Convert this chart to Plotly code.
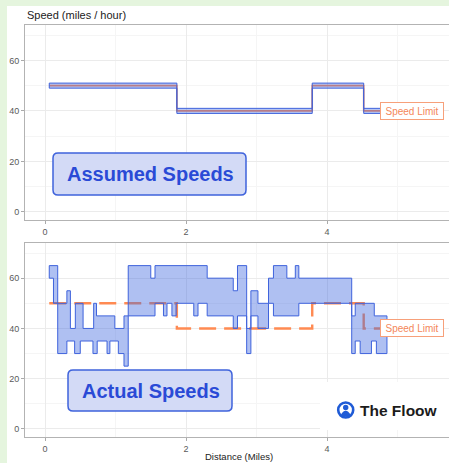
import plotly.graph_objects as go

W, H = 449, 463

# ---------------- data ----------------
# assumed speed = speed limit (mph), step function over distance (miles)
limit_breaks = [0.06, 1.87, 3.79, 4.52, 4.85]
limit_vals = [50, 40, 50, 40]
assumed_half_band = 1  # mph either side of the assumed speed

# actual speeds: upper envelope (max speed) step function
upper_breaks = [0.06, 0.18, 0.31, 0.36, 0.43, 0.54, 0.69, 0.73, 0.99, 1.12, 1.18,
                1.50, 1.56, 2.30, 2.67, 2.73, 2.86, 2.92, 3.02, 3.17, 3.24, 3.43,
                3.55, 3.60, 4.35, 4.40, 4.67, 4.85]
upper_vals = [65, 50, 55, 40, 50, 40, 50, 45, 40, 45, 65, 60, 65, 60, 55, 65, 40,
              55, 50, 60, 65, 60, 65, 60, 45, 50, 45]

# actual speeds: lower envelope (min speed) step function
lower_breaks = [0.06, 0.12, 0.18, 0.31, 0.42, 0.50, 0.68, 0.74, 0.88, 0.92, 1.04,
                1.12, 1.18, 1.56, 1.68, 1.73, 1.80, 1.86, 2.11, 2.17, 2.30, 2.67,
                2.73, 2.86, 2.92, 3.02, 3.17, 3.24, 3.60, 4.35, 4.40, 4.47, 4.63,
                4.70, 4.85]
lower_vals = [60, 50, 30, 35, 30, 35, 30, 35, 30, 35, 30, 25, 45, 50, 45, 50, 45,
              50, 45, 50, 45, 40, 45, 30, 45, 40, 50, 45, 50, 30, 35, 30, 35, 30]

x_ticks = [0, 2, 4]
y_ticks = [0, 20, 40, 60]
y_axis_title = "Speed (miles / hour)"
x_axis_title = "Distance (Miles)"
label_limit = "Speed Limit"
panel_titles = ["Assumed Speeds", "Actual Speeds"]
brand = "The Floow"

# ---------------- helpers ----------------
def step(breaks, vals):
    xs, ys = [], []
    for i, v in enumerate(vals):
        xs += [breaks[i], breaks[i + 1]]
        ys += [v, v]
    return xs, ys

def band(breaks_u, vals_u, breaks_l, vals_l):
    ux, uy = step(breaks_u, vals_u)
    lx, ly = step(breaks_l, vals_l)
    xs = ux + lx[::-1] + [ux[0]]
    ys = uy + ly[::-1] + [uy[0]]
    return xs, ys

def X(px):
    return px / W

def Y(py):
    return 1 - py / H

def rrect(x0, y0, x1, y1, r):
    return (f"M {X(x0+r)},{Y(y0)} L {X(x1-r)},{Y(y0)} Q {X(x1)},{Y(y0)} {X(x1)},{Y(y0+r)} "
            f"L {X(x1)},{Y(y1-r)} Q {X(x1)},{Y(y1)} {X(x1-r)},{Y(y1)} "
            f"L {X(x0+r)},{Y(y1)} Q {X(x0)},{Y(y1)} {X(x0)},{Y(y1-r)} "
            f"L {X(x0)},{Y(y0+r)} Q {X(x0)},{Y(y0)} {X(x0+r)},{Y(y0)} Z")

ORANGE = "#ff8a52"
BLUE = "#3f63dc"
FILL = "rgba(65,105,225,0.42)"

fig = go.Figure()

# ---------------- top panel: assumed ----------------
lx, ly = step(limit_breaks, limit_vals)
fig.add_trace(go.Scatter(x=lx, y=ly, mode="lines", line=dict(color=ORANGE, width=1.6),
                         xaxis="x", yaxis="y", hoverinfo="skip"))
ax_, ay_ = band(limit_breaks, [v + assumed_half_band for v in limit_vals],
                limit_breaks, [v - assumed_half_band for v in limit_vals])
fig.add_trace(go.Scatter(x=ax_, y=ay_, mode="lines", fill="toself", fillcolor="rgba(65,105,225,0.38)",
                         line=dict(color=BLUE, width=1), xaxis="x", yaxis="y", hoverinfo="skip"))

# ---------------- bottom panel: actual ----------------
fig.add_trace(go.Scatter(x=lx, y=ly, mode="lines", line=dict(color=ORANGE, width=2.4, dash="17px,8px"),
                         xaxis="x2", yaxis="y2", hoverinfo="skip"))
bx, by = band(upper_breaks, upper_vals, lower_breaks, lower_vals)
fig.add_trace(go.Scatter(x=bx, y=by, mode="lines", fill="toself", fillcolor=FILL,
                         line=dict(color=BLUE, width=1), xaxis="x2", yaxis="y2", hoverinfo="skip"))

XR = [-0.284, 5.73]
YR = [-3.2, 74.0]
common_x = dict(range=XR, tickvals=x_ticks, showline=True, mirror=True, linecolor="#b3b3b3", linewidth=1,
                ticks="outside", ticklen=3, tickcolor="#aaaaaa", tickwidth=1,
                tickfont=dict(size=9, color="#5a5a5a"), showgrid=True, gridcolor="#ebebeb", gridwidth=1,
                zeroline=False, minor=dict(dtick=1, tick0=0, showgrid=True, gridcolor="#f5f5f5", gridwidth=0.6),
                fixedrange=True)
common_y = dict(range=YR, tickvals=y_ticks, showline=True, mirror=False, linecolor="#b3b3b3", linewidth=1,
                ticks="outside", ticklen=3, tickcolor="#aaaaaa", tickwidth=1,
                tickfont=dict(size=9, color="#5a5a5a"), showgrid=True, gridcolor="#ebebeb", gridwidth=1,
                zeroline=False, minor=dict(dtick=10, tick0=0, showgrid=True, gridcolor="#f5f5f5", gridwidth=0.6),
                fixedrange=True)

fig.update_layout(
    width=W, height=H, margin=dict(l=0, r=0, t=0, b=0),
    paper_bgcolor="#e5f5de", plot_bgcolor="white", showlegend=False,
    font=dict(family="Liberation Sans, Arial, sans-serif"),
    hovermode=False,
    xaxis=dict(domain=[X(25), 1], anchor="y", **common_x),
    yaxis=dict(domain=[Y(220), Y(25)], anchor="x", **common_y),
    xaxis2=dict(domain=[X(25), 1], anchor="y2", **common_x),
    yaxis2=dict(domain=[Y(437), Y(243)], anchor="x2", **common_y),
)

shapes = [
    dict(type="rect", xref="paper", yref="paper", x0=X(7), x1=1, y0=0, y1=Y(6),
         fillcolor="white", line=dict(width=0), layer="below"),
    dict(type="path", xref="paper", yref="paper", path=rrect(53, 153, 246, 195, 5),
         fillcolor="#d3daf6", line=dict(color=BLUE, width=1.5)),
    dict(type="path", xref="paper", yref="paper", path=rrect(68, 370, 232, 411, 5),
         fillcolor="#d3daf6", line=dict(color=BLUE, width=1.5)),
    dict(type="rect", xref="paper", yref="paper", x0=X(320), x1=1, y0=Y(430), y1=Y(382),
         fillcolor="white", line=dict(width=0)),
    # logo ring
    dict(type="circle", xref="paper", yref="paper", x0=X(338.2), x1=X(353.2), y0=Y(417.5), y1=Y(402.5),
         fillcolor="white", line=dict(color="#1f5bd6", width=2.6)),
    # logo head
    dict(type="circle", xref="paper", yref="paper", x0=X(343.0), x1=X(348.4), y0=Y(410.2), y1=Y(404.8),
         fillcolor="#1f5bd6", line=dict(width=0)),
    # logo shoulders
    dict(type="path", xref="paper", yref="paper",
         path=f"M {X(340.6)},{Y(415.2)} Q {X(345.7)},{Y(406.5)} {X(350.8)},{Y(415.2)} Q {X(345.7)},{Y(418.5)} {X(340.6)},{Y(415.2)} Z",
         fillcolor="#1f5bd6", line=dict(width=0)),
]
fig.update_layout(shapes=shapes)

ann = [
    dict(text=y_axis_title, xref="paper", yref="paper", x=X(25), y=Y(15), xanchor="left", yanchor="middle",
         showarrow=False, font=dict(size=11, color="#222222")),
    dict(text=x_axis_title, xref="paper", yref="paper", x=X(239), y=Y(456), xanchor="center", yanchor="middle",
         showarrow=False, font=dict(size=9.5, color="#222222")),
    dict(text=f"<b>{panel_titles[0]}</b>", xref="paper", yref="paper", x=X(150), y=Y(174),
         xanchor="center", yanchor="middle", showarrow=False, font=dict(size=20, color="#2a4ad6")),
    dict(text=f"<b>{panel_titles[1]}</b>", xref="paper", yref="paper", x=X(151), y=Y(391),
         xanchor="center", yanchor="middle", showarrow=False, font=dict(size=20, color="#2a4ad6")),
    dict(text=label_limit, xref="x", yref="y", x=5.2, y=limit_vals[-1], xanchor="center", yanchor="middle",
         showarrow=False, font=dict(size=10, color="#f4875a"), bgcolor="white", bordercolor="#f7a07a",
         borderwidth=1, borderpad=2, width=58, height=12),
    dict(text=label_limit, xref="x2", yref="y2", x=5.2, y=limit_vals[-1], xanchor="center", yanchor="middle",
         showarrow=False, font=dict(size=10, color="#f4875a"), bgcolor="white", bordercolor="#f7a07a",
         borderwidth=1, borderpad=2, width=58, height=12),
    dict(text=f"<b>{brand}</b>", xref="paper", yref="paper", x=X(358), y=Y(410), xanchor="left",
         yanchor="middle", showarrow=False, font=dict(size=15.5, color="#1b1b1b")),
]
fig.update_layout(annotations=ann)

fig.write_html("out.html", config={"displayModeBar": False},
               post_script="document.body.style.margin='0';document.body.style.overflow='hidden';")
